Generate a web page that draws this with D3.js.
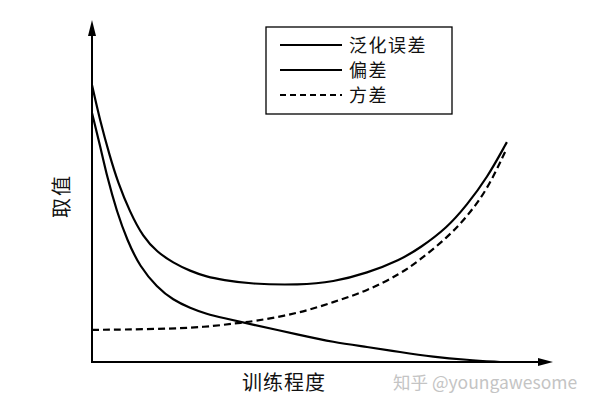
<!DOCTYPE html>
<html>
<head>
<meta charset="utf-8">
<script src="https://cdn.jsdelivr.net/npm/d3@7"></script>
<style>
  html, body { margin: 0; padding: 0; background: #fff; }
  svg { display: block; }
</style>
</head>
<body>
<div id="chart"></div>
<script>
// 训练程度 (0-100) 与取值 (0-100)
const genErrX  = [0, 1.7, 3.9, 5.6, 8.2, 11.1, 14.1, 17.6, 21.3, 24.9, 28.4, 34.3, 45.1, 52.3, 59.7, 66.8, 71.1, 77.0, 81.3, 85.7, 90.0];
const genErrY  = [81.0, 70.8, 60.0, 52.6, 43.9, 36.5, 32.2, 29.0, 26.6, 24.9, 24.0, 22.8, 22.5, 23.4, 26.0, 29.8, 33.3, 39.2, 45.9, 53.8, 64.3];
const biasX    = [0, 1.7, 3.3, 5.4, 7.6, 10.4, 14.1, 17.6, 21.3, 24.9, 28.4, 34.3, 45.1, 52.3, 59.7, 66.8, 74.0, 81.3, 88.5];
const biasY    = [72.8, 63.6, 54.0, 43.9, 35.7, 27.8, 21.9, 18.1, 15.8, 14.0, 12.9, 11.1, 7.9, 5.8, 4.4, 2.9, 1.5, 0.6, 0];
const varX     = [0, 14.1, 24.9, 31.5, 34.3, 45.1, 52.3, 59.7, 66.8, 71.1, 77.0, 81.3, 85.7, 89.6];
const varY     = [9.4, 9.6, 10.2, 11.4, 11.7, 14.3, 17.5, 20.8, 25.7, 29.8, 36.3, 42.4, 50.3, 61.4];
const seriesNames = ['泛化误差', '偏差', '方差'];

const width = 600, height = 412;

const svg = d3.select('#chart')
    .append('svg')
    .attr('width', width)
    .attr('height', height);

const x = d3.scaleLinear().domain([0, 100]).range([92, 553]);
const y = d3.scaleLinear().domain([0, 100]).range([362, 20]);

// 坐标轴
svg.append('line')
    .attr('x1', x(0)).attr('y1', y(0))
    .attr('x2', x(100) - 12).attr('y2', y(0))
    .attr('stroke', '#000').attr('stroke-width', 2);
svg.append('path')
    .attr('d', `M${x(100)},${y(0)} L${x(100) - 15},${y(0) - 4} L${x(100) - 15},${y(0) + 4} Z`)
    .attr('fill', '#000');

svg.append('line')
    .attr('x1', x(0)).attr('y1', y(0) + 1)
    .attr('x2', x(0)).attr('y2', y(100) + 12)
    .attr('stroke', '#000').attr('stroke-width', 2);
svg.append('path')
    .attr('d', `M${x(0)},${y(100)} L${x(0) - 4},${y(100) + 16} L${x(0) + 4},${y(100) + 16} Z`)
    .attr('fill', '#000');

// 曲线
const line = d3.line()
    .x(d => x(d[0]))
    .y(d => y(d[1]))
    .curve(d3.curveBasis);

const series = [
    {name: seriesNames[0], pts: d3.zip(genErrX, genErrY), dash: null},
    {name: seriesNames[1], pts: d3.zip(biasX, biasY), dash: null},
    {name: seriesNames[2], pts: d3.zip(varX, varY), dash: '7,4'}
];

series.forEach(s => {
    svg.append('path')
        .datum(s.pts)
        .attr('d', line)
        .attr('fill', 'none')
        .attr('stroke', '#000')
        .attr('stroke-width', 2.2)
        .attr('stroke-dasharray', s.dash);
});

// 图例
const legend = svg.append('g').attr('transform', 'translate(266, 27)');
legend.append('rect')
    .attr('width', 186).attr('height', 87)
    .attr('fill', '#fff')
    .attr('stroke', '#000')
    .attr('stroke-width', 1.3);

series.forEach((s, i) => {
    const row = legend.append('g').attr('transform', `translate(0, ${18 + i * 25})`);
    row.append('line')
        .attr('x1', 14).attr('x2', 76)
        .attr('stroke', '#000')
        .attr('stroke-width', 2.2)
        .attr('stroke-dasharray', s.dash ? '6,4' : null);
    row.append('text')
        .attr('x', 83)
        .attr('y', 6.5)
        .attr('font-family', '"Noto Sans CJK SC", sans-serif')
        .attr('font-size', 18)
        .attr('letter-spacing', 1.5)
        .attr('fill', '#111')
        .text(s.name);
});

// 轴标签
svg.append('text')
    .attr('transform', 'translate(69, 196) rotate(-90)')
    .attr('text-anchor', 'middle')
    .attr('font-family', '"Noto Sans CJK SC", sans-serif')
    .attr('font-size', 20)
    .attr('letter-spacing', 2)
    .attr('fill', '#111')
    .text('取值');

svg.append('text')
    .attr('x', 284)
    .attr('y', 390)
    .attr('text-anchor', 'middle')
    .attr('font-family', '"Noto Sans CJK SC", sans-serif')
    .attr('font-size', 20)
    .attr('letter-spacing', 1)
    .attr('fill', '#111')
    .text('训练程度');

// 水印
svg.append('text')
    .attr('x', 393)
    .attr('y', 389)
    .attr('font-family', '"Noto Sans CJK SC", sans-serif')
    .attr('font-size', 17.5)
    .attr('fill', '#c4c4c4')
    .text('知乎 @youngawesome');
</script>
</body>
</html>
